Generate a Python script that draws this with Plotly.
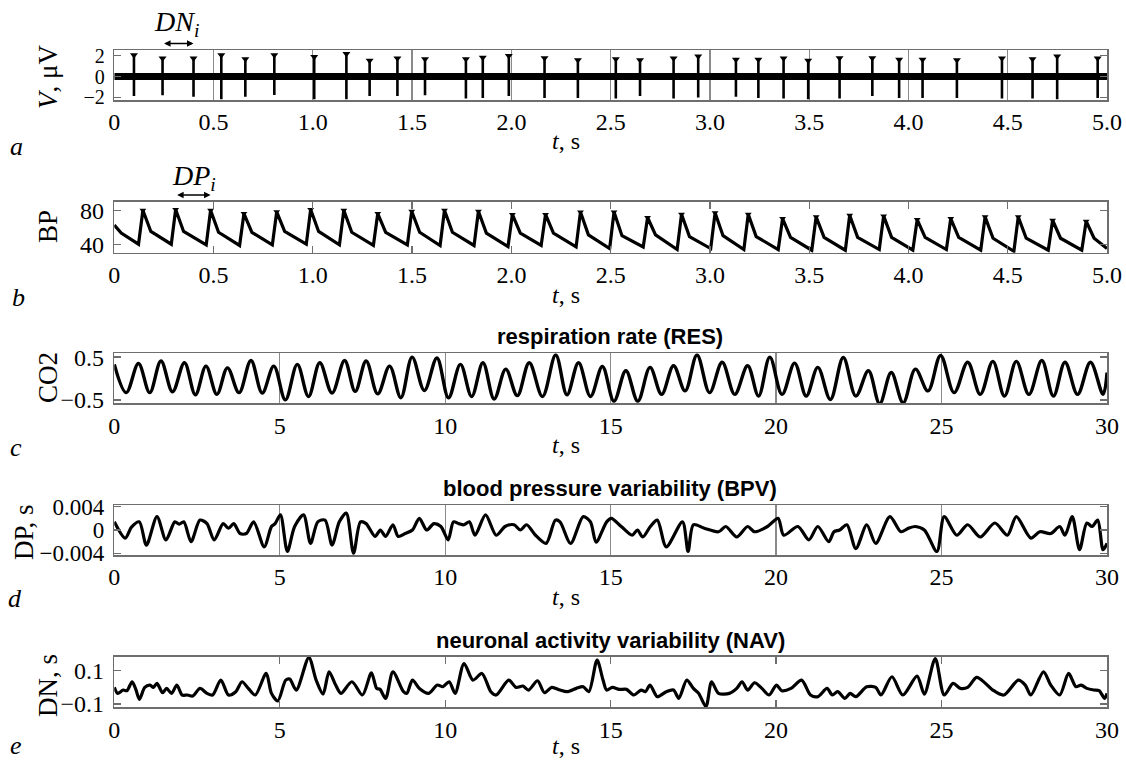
import plotly.graph_objects as go

W, H = 1126, 760
SERIF = "Liberation Serif, Times New Roman, serif"
SANS = "Liberation Sans, Arial, sans-serif"
FRAME = "#6e6e6e"
GRID = "#8a8a8a"

# ---------------- panel a: neuronal spikes ----------------
spike_t = [0.099, 0.243, 0.399, 0.539, 0.660, 0.806, 1.007, 1.169, 1.286, 1.426, 1.565, 1.771, 1.856, 1.987, 2.167,
           2.335, 2.526, 2.648, 2.817, 2.941, 3.131, 3.244, 3.371, 3.495, 3.653, 3.818, 3.953, 4.071, 4.244, 4.471,
           4.625, 4.749, 4.953]
spike_top = [2.06, 1.75, 1.75, 2.06, 1.68, 2.06, 1.9, 2.2, 1.54, 1.75, 1.68, 1.68, 1.84, 2.0, 1.78,
             1.6, 1.68, 1.6, 1.75, 1.95, 1.63, 1.63, 1.75, 1.54, 1.78, 1.78, 1.63, 1.63, 1.6, 1.75,
             1.68, 1.95, 1.75]
spike_bottom = [-1.86, -1.8, -1.93, -2.17, -1.93, -1.77, -2.17, -2.17, -1.86, -1.86, -1.8, -2.11, -2.05, -1.86, -2.05,
                -2.05, -2.11, -1.86, -2.11, -2.01, -1.93, -2.05, -2.11, -2.17, -2.11, -1.86, -2.05, -2.05, -2.05, -2.11,
                -2.11, -2.17, -2.05]
baseline_t = [0.0, 5.0]
baseline_v = [0.0, 0.0]

# ---------------- panel b: blood pressure ----------------
bp_peak_t = [0.144, 0.309, 0.485, 0.653, 0.818, 0.989, 1.156, 1.327, 1.498, 1.663, 1.834, 2.005, 2.172,
             2.348, 2.517, 2.686, 2.857, 3.026, 3.193, 3.366, 3.535, 3.704, 3.875, 4.044, 4.213, 4.386, 4.553,
             4.726, 4.895]
bp_peak = [80, 80.8, 80, 76.1, 78.1, 80.8, 80, 76.1, 78.8, 80, 78.8, 75, 75,
           78, 78, 71.4, 75.3, 76.9, 75.3, 70.2, 72.2, 74.1, 73.3, 69, 70.2, 72.2, 72.2, 68.2, 67]
bp_trough = [40, 40, 39.2, 38.5, 39.2, 40, 39.2, 38.5, 39.2, 38.5, 38.5, 37.3, 38.5,
             36.8, 34.9, 36.8, 33.7, 34.9, 33.7, 33.7, 32.9, 32.9, 33.7, 32.9, 33.7, 32.9, 31.7, 32.9, 32.9]
bp_shoulder = [55, 55, 54, 54, 55, 55, 54, 54, 54, 54, 53, 53, 53,
               51, 50, 51, 49, 50, 49, 48, 48, 48, 48, 48, 48, 47, 47, 47, 47]
bp_head_t = [0.0, 0.035]
bp_head_v = [62.5, 53.0]
bp_tail_t = [5.0]
bp_tail_v = [34.9]
RISE = 0.022      # upstroke duration (s)
SHOULDER = 0.040  # peak -> dicrotic shoulder (s)

# ---------------- panel c: respiration (CO2) ----------------
res_peak_t = [0.0, 0.73, 1.41, 2.12, 2.77, 3.42, 4.13, 4.82, 5.53, 6.21, 6.96, 7.61, 8.32, 9.0, 9.75, 10.46,
              11.14, 11.83, 12.54, 13.34, 14.03, 14.75, 15.46, 16.19, 16.9, 17.61, 18.37, 19.14, 19.81, 20.56,
              21.26, 22.03, 22.79, 23.48, 24.21, 24.97, 25.79, 26.55, 27.26, 28.03, 28.73, 29.5]
res_peak_v = [0.33, 0.35, 0.41, 0.37, 0.29, 0.25, 0.42, 0.29, 0.33, 0.37, 0.42, 0.41, 0.29, 0.5, 0.48, 0.33,
              0.37, 0.22, 0.37, 0.55, 0.37, 0.28, 0.18, 0.26, 0.3, 0.55, 0.38, 0.3, 0.5, 0.36,
              0.26, 0.49, 0.18, 0.14, 0.22, 0.54, 0.38, 0.4, 0.4, 0.42, 0.38, 0.38]
res_trough_t = [0.36, 1.07, 1.76, 2.45, 3.1, 3.77, 4.47, 5.17, 5.87, 6.58, 7.28, 7.96, 8.66, 9.37, 10.1, 10.8,
                11.48, 12.18, 12.94, 13.68, 14.39, 15.1, 15.82, 16.54, 17.25, 17.99, 18.75, 19.47, 20.18, 20.91,
                21.64, 22.41, 23.13, 23.84, 24.59, 25.38, 26.17, 26.9, 27.64, 28.38, 29.11, 29.88]
res_trough_v = [-0.33, -0.33, -0.31, -0.38, -0.37, -0.33, -0.34, -0.5, -0.42, -0.34, -0.3, -0.36, -0.45, -0.28,
                -0.45, -0.42, -0.48, -0.4, -0.42, -0.38, -0.42, -0.53, -0.53, -0.37, -0.29, -0.33, -0.37, -0.41,
                -0.37, -0.41, -0.49, -0.41, -0.59, -0.57, -0.29, -0.33, -0.37, -0.41, -0.37, -0.41, -0.37, -0.37]
res_end_t = [30.0]
res_end_v = [0.14]

# ---------------- panel d: blood pressure variability ----------------
bpv_t = [0.0, 0.33, 0.52, 0.755, 0.97, 1.29, 1.56, 1.83, 1.96, 2.1, 2.32, 2.59, 2.8, 3.02, 3.29, 3.45, 3.61, 3.8,
         3.99, 4.21, 4.53, 4.75, 4.86, 5.02, 5.23, 5.45, 5.72, 5.93, 6.15, 6.37, 6.58, 6.8, 7.01, 7.23, 7.44,
         7.61, 7.88, 8.04, 8.2, 8.42, 8.58, 8.79, 9.01, 9.22, 9.44, 9.66, 9.87, 10.09, 10.25, 10.41, 10.57, 10.73,
         10.9, 11.22, 11.54, 11.81, 12.08, 12.27, 12.46, 12.73, 13.05, 13.33, 13.47, 13.79, 14.17, 14.39, 14.56,
         14.88, 15.02, 15.32, 15.65, 15.81, 15.97, 16.2, 16.41, 16.68, 17.17, 17.34, 17.5, 17.83, 18.26, 18.48,
         18.81, 19.14, 19.35, 19.74, 20.06, 20.23, 20.66, 20.99, 21.26, 21.59, 21.75, 21.92, 22.14, 22.41, 22.74,
         23.01, 23.44, 23.77, 24.0, 24.21, 24.48, 24.86, 25.08, 25.46, 25.79, 26.17, 26.61, 26.99, 27.26, 27.7,
         27.97, 28.3, 28.57, 28.73, 28.95, 29.17, 29.39, 29.55, 29.72, 29.88, 30.0]
bpv_v = [0.0014, -0.0014, 0.0005, 0.0014, -0.0026, 0.0023, -0.0017, 0.0014, 0.001, 0.0014, -0.002, 0.0017,
         0.0011, -0.0017, 0.0011, 0.0003, 0.0011, -0.0006, -0.0006, 0.0014, -0.0029, 0.0006, 0.0011, 0.0026,
         -0.0037, 0.0006, 0.0026, -0.0023, 0.0014, 0.0017, -0.0026, 0.0014, 0.0029, -0.004, 0.0014, 0.0011,
         -0.0011, 0.0, -0.0011, 0.0009, -0.0011, -0.0006, 0.0, 0.002, 0.0, 0.0011, 0.0006, -0.0017, 0.0014,
         0.0011, 0.0009, 0.0014, -0.0009, 0.0026, -0.0009, 0.0006, 0.0009, 0.0, 0.0009, -0.0009, -0.0023,
         0.0017, 0.0014, -0.0023, 0.0023, 0.0014, -0.0021, 0.0014, 0.002, 0.0006, -0.0009, 0.0, -0.0012,
         0.0006, 0.0017, -0.0029, 0.0014, -0.0037, 0.0009, 0.0003, -0.0003, 0.0006, -0.0012, 0.0006, -0.0003,
         0.0006, 0.002, -0.0009, 0.0006, -0.0017, 0.0006, -0.002, -0.0003, 0.0, 0.0009, -0.0032, 0.0009,
         -0.0023, 0.0023, -0.0003, 0.0003, 0.0006, 0.0, -0.0037, 0.0023, -0.0009, 0.0009, -0.0012, 0.0012,
         -0.0009, 0.0023, -0.0014, -0.0003, -0.0006, 0.0006, -0.0009, 0.0023, -0.0034, 0.0012, 0.0006, 0.0017,
         -0.0034, -0.0023]

# ---------------- panel e: neuronal activity variability ----------------
nav_t = [0.0, 0.1, 0.27, 0.38, 0.54, 0.65, 0.76, 0.92, 1.08, 1.18, 1.29, 1.46, 1.58, 1.73, 1.89, 2.05, 2.21,
         2.37, 2.59, 2.8, 2.97, 3.22, 3.45, 3.67, 3.86, 4.05, 4.26, 4.59, 4.75, 4.94, 5.18, 5.3, 5.5, 5.88,
         6.1, 6.31, 6.49, 6.69, 6.85, 7.18, 7.5, 7.77, 7.93, 8.03, 8.2, 8.42, 8.74, 8.84, 9.01, 9.22, 9.5,
         9.76, 9.93, 10.12, 10.3, 10.57, 10.84, 11.11, 11.38, 11.54, 11.92, 12.14, 12.35, 12.52, 12.79, 13.0,
         13.22, 13.47, 13.68, 13.96, 14.17, 14.34, 14.59, 14.77, 14.88, 15.05, 15.26, 15.48, 15.7, 15.92,
         16.05, 16.19, 16.41, 16.68, 16.9, 17.06, 17.3, 17.5, 17.66, 17.88, 18.05, 18.26, 18.59, 18.81, 18.97,
         19.14, 19.35, 19.57, 19.79, 20.01, 20.17, 20.45, 20.77, 21.04, 21.26, 21.54, 21.7, 21.86, 22.08,
         22.24, 22.41, 22.74, 23.01, 23.17, 23.5, 23.83, 24.26, 24.48, 24.81, 25.08, 25.35, 25.57, 25.79,
         26.06, 26.33, 26.55, 26.88, 27.32, 27.53, 27.7, 28.08, 28.3, 28.57, 28.84, 29.06, 29.22, 29.39, 29.6,
         29.76, 29.93, 30.0]
nav_v = [0.0, -0.036, -0.016, -0.02, 0.034, -0.012, -0.072, 0.0, 0.014, 0.0, 0.024, -0.032, -0.006, -0.036,
         0.014, -0.046, -0.046, -0.052, -0.006, -0.036, -0.046, 0.044, -0.046, -0.026, 0.034, -0.006, -0.046,
         0.084, -0.036, -0.082, 0.044, 0.05, -0.016, 0.18, 0.044, -0.04, 0.094, 0.014, -0.036, 0.034, -0.046,
         0.088, -0.006, -0.012, -0.066, 0.094, -0.026, -0.036, 0.044, -0.006, -0.036, 0.014, 0.004, 0.034,
         -0.036, 0.144, 0.044, 0.084, -0.026, -0.046, 0.044, 0.0, 0.008, -0.016, 0.04, -0.032, 0.0, -0.016,
         -0.026, -0.006, 0.004, -0.026, 0.164, 0.044, -0.016, 0.0, -0.012, -0.012, -0.046, -0.016, -0.026,
         0.014, -0.056, -0.026, -0.016, -0.066, 0.044, -0.006, -0.036, -0.116, 0.034, -0.036, -0.036, -0.006,
         0.034, -0.016, 0.028, -0.006, -0.046, 0.014, -0.02, -0.006, 0.044, -0.046, -0.056, -0.006, -0.046,
         -0.026, -0.066, -0.036, -0.056, 0.004, 0.0, -0.046, 0.064, -0.046, 0.068, -0.04, 0.174, -0.046, 0.024,
         -0.006, 0.0, 0.06, 0.024, -0.016, -0.046, 0.044, 0.014, -0.046, 0.094, 0.014, -0.046, 0.084, 0.004,
         0.014, -0.006, -0.016, -0.02, -0.066, -0.036]

# ---------------- tick labels ----------------
short_ticks = [0, 0.5, 1.0, 1.5, 2.0, 2.5, 3.0, 3.5, 4.0, 4.5, 5.0]
short_text = ["0", "0.5", "1.0", "1.5", "2.0", "2.5", "3.0", "3.5", "4.0", "4.5", "5.0"]
long_ticks = [0, 5, 10, 15, 20, 25, 30]
long_text = ["0", "5", "10", "15", "20", "25", "30"]

# ---------------- build derived series ----------------
sx, sy = [], []
for t, lo, hi in zip(spike_t, spike_bottom, spike_top):
    sx += [t, t, None]
    sy += [lo, hi, None]

bx, by = list(bp_head_t), list(bp_head_v)
for t, pk, tr, sh in zip(bp_peak_t, bp_peak, bp_trough, bp_shoulder):
    bx += [t - RISE, t, t + SHOULDER]
    by += [tr, pk, sh]
bx += bp_tail_t
by += bp_tail_v

rx, ry = [], []
for tp, vp, tt, vt in zip(res_peak_t, res_peak_v, res_trough_t, res_trough_v):
    rx += [tp, tt]
    ry += [vp, vt]
rx += res_end_t
ry += res_end_v

# ---------------- figure ----------------
XDOM = [114.3 / W, 1107 / W]
panels = [  # (top px, bottom px)
    (50.0, 100.0), (201.7, 252.7), (353.3, 403.3), (505.0, 555.0), (656.7, 707.3)]


def ydom(p):
    return [1 - p[1] / H, 1 - p[0] / H]


def px(x):
    return x / W


def py(y):
    return 1 - y / H


LINE = dict(color="black", width=3.2)
fig = go.Figure()
fig.add_trace(go.Scatter(x=baseline_t, y=baseline_v, mode="lines", line=dict(color="black", width=7),
                         xaxis="x", yaxis="y", hoverinfo="skip"))
fig.add_trace(go.Scatter(x=sx, y=sy, mode="lines", line=dict(color="black", width=2.6),
                         xaxis="x", yaxis="y", connectgaps=False))
fig.add_trace(go.Scatter(x=spike_t, y=spike_top, mode="markers",
                         marker=dict(symbol="triangle-down", size=7, color="black"), xaxis="x", yaxis="y"))
fig.add_trace(go.Scatter(x=bx, y=by, mode="lines", line=LINE, xaxis="x2", yaxis="y2"))
fig.add_trace(go.Scatter(x=bp_peak_t, y=bp_peak, mode="markers",
                         marker=dict(symbol="triangle-down", size=6, color="black"), xaxis="x2", yaxis="y2"))
fig.add_trace(go.Scatter(x=rx, y=ry, mode="lines", line=dict(color="black", width=3.4, shape="spline", smoothing=1.0),
                         xaxis="x3", yaxis="y3"))
fig.add_trace(go.Scatter(x=bpv_t, y=bpv_v, mode="lines", line=dict(color="black", width=3.2, shape="spline", smoothing=0.8),
                         xaxis="x4", yaxis="y4"))
fig.add_trace(go.Scatter(x=nav_t, y=nav_v, mode="lines", line=dict(color="black", width=3.2, shape="spline", smoothing=0.8),
                         xaxis="x5", yaxis="y5"))


def xcfg(i, rng, tv, tt, grid):
    return dict(domain=XDOM, anchor="y" if i == 1 else f"y{i}", range=rng, tickvals=tv, ticktext=tt,
                showline=True, linecolor=FRAME, linewidth=1.5, mirror="ticks",
                ticks="" if grid else "inside", ticklen=7, tickcolor=FRAME, tickwidth=1.3,
                showgrid=grid, gridcolor=GRID, gridwidth=1.3, zeroline=False, automargin=False,
                tickfont=dict(family=SERIF, size=24, color="black"), ticklabelstandoff=0, fixedrange=True)


def ycfg(i, rng, tv, tt, fs=24):
    return dict(domain=ydom(panels[i - 1]), anchor="x" if i == 1 else f"x{i}", range=rng, tickvals=tv,
                ticktext=tt, showline=True, linecolor=FRAME, linewidth=1.5, mirror="ticks",
                ticks="inside", ticklen=7, tickcolor=FRAME, tickwidth=1.3, showgrid=False, zeroline=False,
                automargin=False, tickfont=dict(family=SERIF, size=fs, color="black"), ticklabelstandoff=4,
                fixedrange=True)


layout = dict(width=W, height=H, margin=dict(l=0, r=0, t=0, b=0, pad=0, autoexpand=False),
              paper_bgcolor="white", plot_bgcolor="white", showlegend=False, hovermode=False)
layout["xaxis"] = xcfg(1, [0, 5], short_ticks, short_text, True)
layout["xaxis2"] = xcfg(2, [0, 5], short_ticks, short_text, False)
layout["xaxis3"] = xcfg(3, [0, 30], long_ticks, long_text, True)
layout["xaxis4"] = xcfg(4, [0, 30], long_ticks, long_text, True)
layout["xaxis5"] = xcfg(5, [0, 30], long_ticks, long_text, False)
layout["yaxis"] = ycfg(1, [-2.25, 2.55], [-2, 0, 2], ["\u22122", "0", "2"], 20)
layout["yaxis2"] = ycfg(2, [30, 90], [40, 80], ["40", "80"])
layout["yaxis3"] = ycfg(3, [-0.58, 0.59], [-0.5, 0.5], ["\u22120.5", "0.5"])
layout["yaxis4"] = ycfg(4, [-0.0043, 0.0043], [-0.004, 0, 0.004], ["\u22120.004", "0", "0.004"], 23)
layout["yaxis5"] = ycfg(5, [-0.12, 0.185], [-0.1, 0.1], ["\u22120.1", "0.1"])
fig.update_layout(**layout)

ann = []


def text(x, y, s, size=24, family=SERIF, angle=0, xanchor="center"):
    ann.append(dict(x=px(x), y=py(y), xref="paper", yref="paper", text=s, showarrow=False,
                    font=dict(family=family, size=size, color="black"), textangle=angle,
                    xanchor=xanchor, yanchor="middle"))


# y-axis titles
text(48, 77, "<i>V</i>, μV", 27, angle=-90)
text(48, 227, "BP", 27, angle=-90)
text(48, 378, "CO2", 27, angle=-90)
text(24, 532, "DP, s", 27, angle=-90)
text(48, 686, "DN, s", 27, angle=-90)
# x-axis titles
for yy in (141, 295, 445, 597, 746):
    text(566, yy, "<i>t</i>, s", 24)
# panel letters
for lx, ly, s in ((16, 146, "a"), (18, 297, "b"), (16, 448, "c"), (15, 598, "d"), (16, 745, "e")):
    text(lx, ly, f"<i>{s}</i>", 26)
# panel titles
text(610, 336, "<b>respiration rate (RES)</b>", 22, SANS)
text(610, 488, "<b>blood pressure variability (BPV)</b>", 22, SANS)
text(610, 640, "<b>neuronal activity variability (NAV)</b>", 22, SANS)
# interval labels
text(176, 24, "<i>DN<sub>i</sub></i>", 28)
text(194, 177, "<i>DP<sub>i</sub></i>", 28)

# double arrows spanning one interval
ann.append(dict(x=spike_t[2], y=py(43.5), xref="x", yref="paper", ax=spike_t[1], ay=0, axref="x",
                ayref="pixel", text="", showarrow=True, arrowhead=2, arrowside="end+start", arrowsize=1,
                arrowwidth=1.3, arrowcolor="black", standoff=0, startstandoff=0))
ann.append(dict(x=bp_peak_t[2], y=py(195), xref="x2", yref="paper", ax=bp_peak_t[1], ay=0, axref="x2",
                ayref="pixel", text="", showarrow=True, arrowhead=2, arrowside="end+start", arrowsize=1,
                arrowwidth=1.3, arrowcolor="black", standoff=0, startstandoff=0))

fig.update_layout(annotations=ann)
fig.write_html("out.html", config={"displayModeBar": False, "staticPlot": True},
               post_script="document.body.style.margin='0';document.body.style.padding='0';"
                           "document.documentElement.style.overflow='hidden';")
